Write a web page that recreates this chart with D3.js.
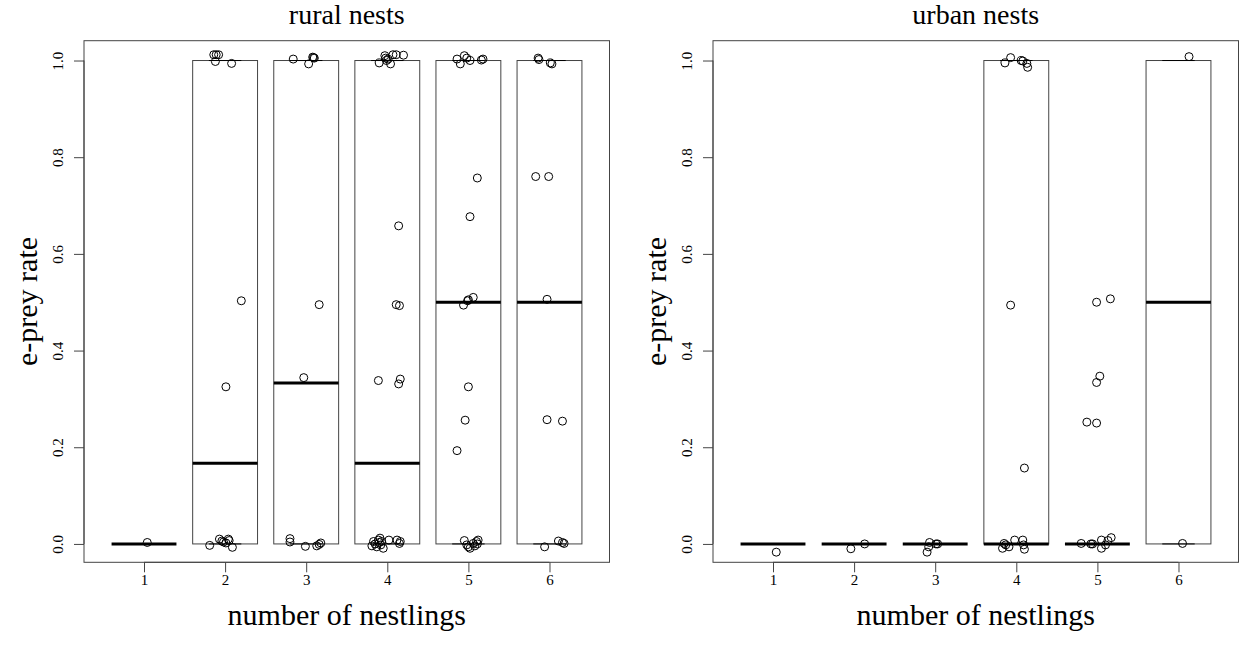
<!DOCTYPE html>
<html>

<head>
    <meta charset="utf-8">
    <style>
        body {
            margin: 0;
            background: white;
        }

        svg {
            font-family: 'Liberation Serif', 'DejaVu Serif', serif;
        }

        .tick text {
            font-size: 15px;
            fill: #000;
        }

        .tick line,
        .domain {
            stroke: #444;
        }
    </style>
</head>

<body>
    <svg width="1240" height="648"></svg>
</body>

<script src="https://d3js.org/d3.v7.min.js"></script>

<script>
    // number of nestlings on the x axis
    let groups = [1, 2, 3, 4, 5, 6]
    let yTicks = [0, 0.2, 0.4, 0.6, 0.8, 1.0]

    // box stats per group (lower hinge, median, upper hinge)
    let ruralQ1 = [0, 0, 0, 0, 0, 0]
    let ruralMedian = [0, 0.167, 0.333, 0.167, 0.5, 0.5]
    let ruralQ3 = [0, 1, 1, 1, 1, 1]

    let urbanQ1 = [0, 0, 0, 0, 0, 0]
    let urbanMedian = [0, 0, 0, 0, 0, 0.5]
    let urbanQ3 = [0, 0, 0, 1, 0, 1]

    // jittered points [x, rate] for each group
    let ruralPoints = [
        [[1.04, 0.003]],
        [[1.86, 1.012], [1.89, 1.012], [1.92, 1.012], [1.88, 0.998], [2.08, 0.994],
         [2.20, 0.503], [2.01, 0.325],
         [1.81, -0.003], [1.93, 0.010], [1.96, 0.006], [1.98, 0.004], [2.01, 0.002],
         [2.04, 0.010], [2.05, 0.007], [2.09, -0.007]],
        [[2.84, 1.003], [3.03, 0.993], [3.08, 1.007], [3.09, 1.006], [3.10, 1.005],
         [3.16, 0.495], [2.97, 0.344],
         [2.80, 0.011], [2.80, 0.004], [2.99, -0.005], [3.13, -0.004], [3.16, -0.001], [3.18, 0.002]],
        [[3.90, 0.995], [3.97, 1.010], [3.98, 1.005], [3.99, 1.000], [4.01, 1.003],
         [4.04, 0.993], [4.07, 1.012], [4.11, 1.012], [4.20, 1.011],
         [4.14, 0.658], [4.11, 0.495], [4.15, 0.493], [3.89, 0.338], [4.16, 0.341], [4.14, 0.331],
         [3.81, -0.004], [3.83, 0.005], [3.85, 0.000], [3.87, -0.006], [3.89, 0.008],
         [3.90, 0.003], [3.91, 0.012], [3.92, -0.002], [3.93, 0.005], [3.95, -0.009],
         [4.02, 0.008], [4.12, 0.008], [4.15, 0.001], [4.16, 0.005]],
        [[4.86, 1.003], [4.90, 0.993], [4.95, 1.010], [4.98, 1.005], [5.02, 1.000],
         [5.16, 1.001], [5.18, 1.003],
         [5.11, 0.757], [5.02, 0.677], [5.06, 0.510], [5.00, 0.505], [4.99, 0.503],
         [4.94, 0.494], [5.00, 0.325], [4.96, 0.256], [4.86, 0.193],
         [4.95, 0.007], [4.98, -0.002], [5.00, -0.006], [5.02, -0.009], [5.06, 0.001],
         [5.08, -0.004], [5.10, 0.005], [5.12, 0.008], [5.11, 0.000]],
        [[5.86, 1.005], [5.87, 1.002], [6.01, 0.995], [6.03, 0.993],
         [5.83, 0.760], [5.99, 0.760], [5.97, 0.506], [5.97, 0.257], [6.16, 0.254],
         [5.94, -0.006], [6.11, 0.006], [6.16, 0.003], [6.18, 0.001]]
    ]

    let urbanPoints = [
        [[1.04, -0.017]],
        [[1.96, -0.010], [2.13, 0.000]],
        [[2.90, -0.017], [2.92, -0.006], [2.93, 0.003], [3.01, 0.000], [3.03, 0.000]],
        [[3.86, 0.995], [3.93, 1.006], [4.06, 1.000], [4.08, 0.999], [4.13, 0.994], [4.14, 0.986],
         [3.93, 0.494], [4.10, 0.157],
         [3.83, -0.009], [3.85, 0.001], [3.87, -0.002], [3.91, -0.006], [3.98, 0.008],
         [4.08, 0.008], [4.09, -0.002], [4.10, -0.011]],
        [[4.99, 0.500], [5.16, 0.507], [5.03, 0.347], [4.99, 0.334], [4.87, 0.252], [4.99, 0.250],
         [4.80, 0.001], [4.92, 0.000], [4.94, 0.000], [5.05, 0.008], [5.05, -0.009],
         [5.10, -0.002], [5.13, 0.007], [5.17, 0.013]],
        [[6.13, 1.008], [6.05, 0.001]]
    ]

    let svg = d3.select("svg")

    let plotTop = 40.7
    let plotBottom = 562.3
    let panelW = 525.5

    function drawPanel(left, title, q1, med, q3, points) {
        let x = d3.scaleLinear()
            .domain([0.26, 6.74])
            .range([left, left + panelW])

        let y = d3.scaleLinear()
            .domain([-0.038, 1.041])
            .range([plotBottom, plotTop])

        let g = svg.append("g")
        let bw = x(0.4) - x(0)   // half box width (boxwex 0.8)

        // boxes
        g.selectAll(".box")
            .data(groups)
            .join("rect")
            .attr("x", (d, i) => x(d) - bw)
            .attr("y", (d, i) => y(q3[i]))
            .attr("width", bw * 2)
            .attr("height", (d, i) => y(q1[i]) - y(q3[i]))
            .attr("fill", "white")
            .attr("stroke", "#444")
            .attr("stroke-width", 1)

        // staples at min and max
        groups.forEach(function (d, i) {
            [q1[i], q3[i]].forEach(function (v) {
                g.append("line")
                    .attr("x1", x(d) - bw / 2)
                    .attr("x2", x(d) + bw / 2)
                    .attr("y1", y(v))
                    .attr("y2", y(v))
                    .attr("stroke", "#000")
                    .attr("stroke-width", 1)
            })
        })

        // medians
        g.selectAll(".median")
            .data(groups)
            .join("line")
            .attr("x1", d => x(d) - bw)
            .attr("x2", d => x(d) + bw)
            .attr("y1", (d, i) => y(med[i]))
            .attr("y2", (d, i) => y(med[i]))
            .attr("stroke", "#000")
            .attr("stroke-width", 3)

        // jittered points
        g.selectAll(".pt")
            .data(points.flat())
            .join("circle")
            .attr("cx", d => x(d[0]))
            .attr("cy", d => y(d[1]))
            .attr("r", 4)
            .attr("fill", "none")
            .attr("stroke", "#000")
            .attr("stroke-width", 1)

        // frame
        g.append("rect")
            .attr("x", left)
            .attr("y", plotTop)
            .attr("width", panelW)
            .attr("height", plotBottom - plotTop)
            .attr("fill", "none")
            .attr("stroke", "#444")

        // axes
        g.append("g")
            .attr("transform", `translate(0,${plotBottom})`)
            .call(d3.axisBottom(x).tickValues(groups).tickSize(10).tickPadding(2).tickFormat(d3.format("d")))
            .call(a => a.select(".domain").attr("d", `M${x(1)},0H${x(6)}`))
            .attr("font-family", null)

        let ya = g.append("g")
            .attr("transform", `translate(${left},0)`)
            .call(d3.axisLeft(y).tickValues(yTicks).tickSize(10).tickFormat(d3.format(".1f")))
            .call(a => a.select(".domain").attr("d", `M0,${y(0)}V${y(1)}`))
            .attr("font-family", null)

        ya.selectAll(".tick text")
            .attr("transform", "rotate(-90)")
            .attr("x", 0)
            .attr("y", -21)
            .attr("dy", 0)
            .attr("text-anchor", "middle")

        // labels
        g.append("text").text(title)
            .attr("x", left + panelW / 2)
            .attr("y", 24)
            .attr("text-anchor", "middle")
            .attr("font-size", "28px")

        g.append("text").text("number of nestlings")
            .attr("x", left + panelW / 2)
            .attr("y", 625)
            .attr("text-anchor", "middle")
            .attr("font-size", "30px")

        g.append("text").text("e-prey rate")
            .attr("transform", `translate(${left - 47},${(plotTop + plotBottom) / 2}) rotate(-90)`)
            .attr("text-anchor", "middle")
            .attr("font-size", "30px")
    }

    drawPanel(84, "rural nests", ruralQ1, ruralMedian, ruralQ3, ruralPoints)
    drawPanel(713, "urban nests", urbanQ1, urbanMedian, urbanQ3, urbanPoints)
</script>

</html>
